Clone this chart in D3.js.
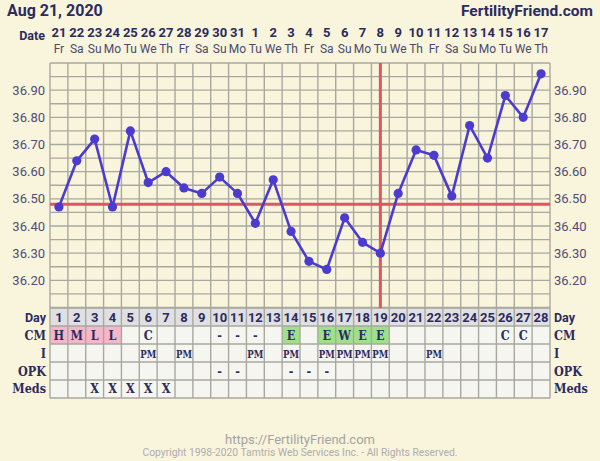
<!DOCTYPE html>
<html><head><meta charset="utf-8">
<script src="https://cdn.jsdelivr.net/npm/d3@7"></script>
<style>
html,body{margin:0;padding:0;background:#f9f4dc;}
svg{display:block;}
</style></head>
<body>
<svg id="c" width="600" height="461"></svg>
<script>
const title = "Aug 21, 2020";
const site = "FertilityFriend.com";
const cycleDays = d3.range(1, 29);
const dates = [21,22,23,24,25,26,27,28,29,30,31,1,2,3,4,5,6,7,8,9,10,11,12,13,14,15,16,17];
const weekdays = ["Fr","Sa","Su","Mo","Tu","We","Th","Fr","Sa","Su","Mo","Tu","We","Th","Fr","Sa","Su","Mo","Tu","We","Th","Fr","Sa","Su","Mo","Tu","We","Th"];
const temps = [36.47,36.64,36.72,36.47,36.75,36.56,36.60,36.54,36.52,36.58,36.52,36.41,36.57,36.38,36.27,36.24,36.43,36.34,36.30,36.52,36.68,36.66,36.51,36.77,36.65,36.88,36.80,36.96];
const tempTicks = [36.20,36.30,36.40,36.50,36.60,36.70,36.80,36.90];
const coverline = 36.48;
const ovulationDay = 19;
const cm   = ["H","M","L","L","","C","","","","-","-","-","","E","","E","W","E","E","","","","","","","C","C",""];
const intercourse = ["","","","","","PM","","PM","","","","PM","","PM","","PM","PM","PM","PM","","","PM","","","","","",""];
const opk  = ["","","","","","","","","","-","-","","","-","-","-","","","","","","","","","","","",""];
const meds = ["","","X","X","X","X","X","","","","","","","","","","","","","","","","","","","","",""];
const rowLabels = ["Day","CM","I","OPK","Meds"];
const footer1 = "https://FertilityFriend.com";
const footer2 = "Copyright 1998-2020 Tamtris Web Services Inc. - All Rights Reserved.";

const ink = "#2b2b5e";
const svg = d3.select("#c");
svg.append("rect").attr("width",600).attr("height",461).attr("fill","#f9f4dc");

const x = d3.scaleLinear().domain([0.5, 28.5]).range([50, 550]);
const y = d3.scaleLinear().domain([36.10, 37.00]).range([307.5, 63]);
const rowTops = [308, 326, 344, 362, 380, 398];
const colW = x(1.5) - x(0.5);

const sans = "Roboto, 'Liberation Sans', sans-serif";
const serif = "'DejaVu Serif Condensed', 'DejaVu Serif', serif";

// Header
svg.append("text").attr("x",7).attr("y",15.5).text(title)
  .attr("font-family",sans).attr("font-weight","bold").attr("font-size",16).attr("fill",ink);
svg.append("text").attr("x",593).attr("y",15.5).attr("text-anchor","end").text(site)
  .attr("font-family",sans).attr("font-weight","bold").attr("font-size",15.5).attr("fill",ink);
svg.append("text").attr("x",45).attr("y",39.5).attr("text-anchor","end").text("Date")
  .attr("font-family",sans).attr("font-weight","bold").attr("font-size",12.5).attr("fill",ink);
svg.append("g").selectAll("text").data(dates).join("text")
  .attr("x",(d,i)=>x(i+1)).attr("y",37).attr("text-anchor","middle").text(d=>d)
  .attr("font-family",sans).attr("font-weight","bold").attr("font-size",13).attr("fill",ink);
svg.append("g").selectAll("text").data(weekdays).join("text")
  .attr("x",(d,i)=>x(i+1)).attr("y",53).attr("text-anchor","middle").text(d=>d)
  .attr("font-family",sans).attr("font-size",12).attr("fill","#4a4a70");

// Table backgrounds
const tbl = svg.append("g");
tbl.selectAll("rect.day").data(cycleDays).join("rect")
  .attr("x",d=>x(d-0.5)).attr("y",rowTops[0]).attr("width",colW).attr("height",rowTops[1]-rowTops[0])
  .attr("fill","#e0e0e3");
for (let r=1;r<5;r++){
  tbl.append("g").selectAll("rect").data(cycleDays).join("rect")
    .attr("x",d=>x(d-0.5)).attr("y",rowTops[r]).attr("width",colW).attr("height",rowTops[r+1]-rowTops[r])
    .attr("fill",(d,i)=>{
      if(r===1){ const v=cm[i]; if(v && "HML".includes(v)) return "#f4b6c9"; if(v && "EW".includes(v)) return "#9fe08a"; }
      return "#f6f6f0";
    });
}

// Grid
const grid = svg.append("g").attr("stroke","#a9a8a0").attr("stroke-width",1.4);
grid.selectAll("line.v").data(d3.range(0,29)).join("line")
  .attr("x1",d=>x(d+0.5)).attr("x2",d=>x(d+0.5)).attr("y1",63).attr("y2",398);
grid.selectAll("line.h").data(d3.range(0,19).map(i=>36.10+i*0.05)).join("line")
  .attr("x1",50).attr("x2",550).attr("y1",d=>y(d)).attr("y2",d=>y(d));
grid.selectAll("line.r").data(rowTops).join("line")
  .attr("x1",50).attr("x2",550).attr("y1",d=>d).attr("y2",d=>d);

// Axis labels
[[45,"end"],[554,"start"]].forEach(([xx,anc])=>{
  svg.append("g").selectAll("text").data(tempTicks).join("text")
    .attr("x",xx).attr("y",d=>y(d)+4.5).attr("text-anchor",anc).text(d=>d.toFixed(2))
    .attr("font-family",sans).attr("font-size",13).attr("fill","#4d4d78");
});

// Coverline and ovulation line
svg.append("line").attr("x1",50).attr("x2",550).attr("y1",y(coverline)).attr("y2",y(coverline))
  .attr("stroke","#dd5660").attr("stroke-width",3);
svg.append("line").attr("x1",x(ovulationDay)).attr("x2",x(ovulationDay)).attr("y1",63).attr("y2",308)
  .attr("stroke","#dd5660").attr("stroke-width",3);

// Temperature line
const line = d3.line().x((d,i)=>x(i+1)).y(d=>y(d));
svg.append("path").datum(temps).attr("d",line).attr("fill","none")
  .attr("stroke","#4b3ccf").attr("stroke-width",2.6).attr("stroke-linejoin","round");
svg.append("g").selectAll("circle").data(temps).join("circle")
  .attr("cx",(d,i)=>x(i+1)).attr("cy",d=>y(d)).attr("r",4.6).attr("fill","#4b3ccf");

// Table text
svg.append("g").selectAll("text").data(cycleDays).join("text")
  .attr("x",d=>x(d)).attr("y",322).attr("text-anchor","middle").text(d=>d)
  .attr("font-family",sans).attr("font-weight","bold").attr("font-size",13).attr("fill",ink);
const rowsData = [cm, intercourse, opk, meds];
const rowBase = [339.5, 357.5, 375.5, 393];
rowsData.forEach((arr,r)=>{
  const t = svg.append("g").selectAll("text").data(arr.map((v,i)=>({v,i})).filter(o=>o.v)).join("text")
    .attr("x",o=>x(o.i+1)).attr("y",rowBase[r]).attr("text-anchor","middle").text(o=>o.v)
    .attr("font-family",serif).attr("font-weight","bold").attr("font-size",r===1?11.5:12.5).attr("fill",ink);
  if (r===1) t.attr("textLength",16).attr("lengthAdjust","spacingAndGlyphs");
});
// Row labels
const labelBase = [322, 339.5, 357.5, 375.5, 393];
rowLabels.forEach((lab,r)=>{
  const f = r===0 ? sans : serif;
  svg.append("text").attr("x",46).attr("y",labelBase[r]).attr("text-anchor","end").text(lab)
    .attr("font-family",f).attr("font-weight","bold").attr("font-size",12.5).attr("fill",ink);
  svg.append("text").attr("x",554).attr("y",labelBase[r]).attr("text-anchor","start").text(lab)
    .attr("font-family",f).attr("font-weight","bold").attr("font-size",12.5).attr("fill",ink);
});

// Footer
svg.append("text").attr("x",300).attr("y",443.5).attr("text-anchor","middle").text(footer1)
  .attr("font-family",sans).attr("font-size",13).attr("fill","#a3a3a3");
svg.append("text").attr("x",300).attr("y",455.5).attr("text-anchor","middle").text(footer2)
  .attr("font-family",sans).attr("font-size",10.3).attr("fill","#adadad");
</script>
</body></html>
